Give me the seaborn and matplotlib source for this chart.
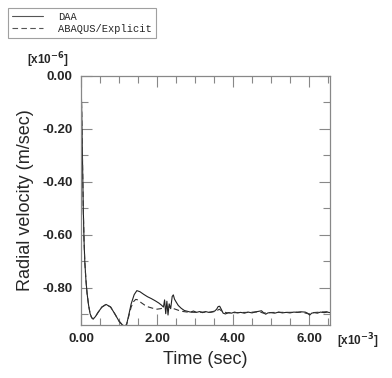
import numpy as np
import pandas as pd
import seaborn as sns
import matplotlib.pyplot as plt
from matplotlib.ticker import MultipleLocator, FixedLocator, FixedFormatter

# time in 1e-3 s, radial velocity in 1e-6 m/s
t_daa = [0.0, 0.02, 0.04, 0.06, 0.08, 0.10, 0.13, 0.16, 0.20, 0.24, 0.28, 0.32,
         0.38, 0.45, 0.55, 0.66, 0.78, 0.90, 1.00, 1.08, 1.15, 1.20, 1.26, 1.32,
         1.40, 1.47, 1.55, 1.65, 1.75, 1.85, 1.95, 2.05, 2.12, 2.17, 2.20, 2.23,
         2.26, 2.29, 2.32, 2.36, 2.40, 2.43, 2.46, 2.50, 2.56, 2.64, 2.72, 2.80,
         2.88, 2.96, 3.04, 3.12, 3.20, 3.28, 3.36, 3.44, 3.52, 3.57, 3.61, 3.65,
         3.69, 3.74, 3.80, 3.88, 3.96, 4.04, 4.12, 4.20, 4.30, 4.40, 4.50, 4.60,
         4.68, 4.75, 4.80, 4.86, 4.92, 5.00, 5.10, 5.20, 5.30, 5.40, 5.50, 5.60,
         5.70, 5.80, 5.90, 5.96, 6.02, 6.07, 6.14, 6.22, 6.30, 6.40, 6.48, 6.55]
v_daa = [0.0, -0.14, -0.32, -0.50, -0.62, -0.70, -0.77, -0.82, -0.865, -0.897, -0.912, -0.917,
         -0.908, -0.892, -0.872, -0.862, -0.872, -0.900, -0.925, -0.938, -0.945, -0.938, -0.900, -0.860,
         -0.825, -0.810, -0.814, -0.824, -0.833, -0.840, -0.848, -0.857, -0.865, -0.872, -0.845, -0.897,
         -0.850, -0.902, -0.860, -0.878, -0.832, -0.826, -0.842, -0.852, -0.866, -0.877, -0.885, -0.888,
         -0.891, -0.887, -0.892, -0.889, -0.893, -0.889, -0.892, -0.890, -0.887, -0.880, -0.870, -0.869,
         -0.880, -0.895, -0.898, -0.893, -0.895, -0.891, -0.894, -0.892, -0.895, -0.891, -0.894, -0.890,
         -0.888, -0.886, -0.893, -0.899, -0.894, -0.893, -0.895, -0.891, -0.894, -0.892, -0.894, -0.891,
         -0.892, -0.890, -0.891, -0.895, -0.902, -0.895, -0.893, -0.895, -0.891, -0.893, -0.891, -0.893]

t_aba = [0.0, 0.02, 0.04, 0.06, 0.08, 0.10, 0.13, 0.16, 0.20, 0.24, 0.28, 0.32,
         0.38, 0.45, 0.55, 0.66, 0.78, 0.90, 1.00, 1.08, 1.15, 1.20, 1.26, 1.32,
         1.38, 1.44, 1.50, 1.58, 1.68, 1.78, 1.90, 2.00, 2.10, 2.20, 2.30, 2.40,
         2.50, 2.60, 2.70, 2.80, 3.00, 3.20, 3.40, 3.55, 3.64, 3.72, 3.85, 4.10,
         4.40, 4.70, 4.80, 4.90, 5.20, 5.50, 5.80, 6.00, 6.10, 6.30, 6.55]
v_aba = [0.0, -0.14, -0.32, -0.50, -0.62, -0.70, -0.77, -0.82, -0.865, -0.897, -0.912, -0.917,
         -0.908, -0.892, -0.872, -0.862, -0.872, -0.900, -0.925, -0.938, -0.945, -0.938, -0.905, -0.872,
         -0.852, -0.843, -0.845, -0.855, -0.865, -0.872, -0.877, -0.880, -0.878, -0.874, -0.872, -0.876,
         -0.881, -0.886, -0.889, -0.891, -0.892, -0.891, -0.892, -0.888, -0.880, -0.889, -0.894, -0.893,
         -0.892, -0.890, -0.895, -0.893, -0.892, -0.892, -0.891, -0.898, -0.893, -0.891, -0.889]

df = pd.concat([
    pd.DataFrame({"t": t_daa, "v": v_daa, "series": "DAA"}),
    pd.DataFrame({"t": t_aba, "v": v_aba, "series": "ABAQUS/Explicit"}),
])

sns.set_style("ticks")
plt.rcParams["font.family"] = ["Liberation Sans", "DejaVu Sans"]

fig = plt.figure(figsize=(3.92, 3.78), dpi=100)
ax = fig.add_axes([0.2066, 0.140, 0.635, 0.659])

sns.lineplot(data=df, x="t", y="v", hue="series", style="series",
             palette={"DAA": "#222222", "ABAQUS/Explicit": "#333333"},
             dashes={"DAA": "", "ABAQUS/Explicit": (5, 3)},
             sort=False, estimator=None, linewidth=0.8, ax=ax, legend=False)

ax.set_xlim(0, 6.55)
ax.set_ylim(-0.94, 0)
ax.xaxis.set_major_locator(FixedLocator([0, 2, 4, 6]))
ax.xaxis.set_major_formatter(FixedFormatter(["0.00", "2.00", "4.00", "6.00"]))
ax.xaxis.set_minor_locator(MultipleLocator(0.5))
ax.yaxis.set_major_locator(FixedLocator([0, -0.2, -0.4, -0.6, -0.8]))
ax.yaxis.set_major_formatter(FixedFormatter(["0.00", "-0.20", "-0.40", "-0.60", "-0.80"]))
ax.yaxis.set_minor_locator(MultipleLocator(0.1))

ax.tick_params(which="both", direction="in", top=True, right=True, color="#888888", width=0.8)
ax.tick_params(which="major", length=8, labelsize=9.5, pad=6)
ax.tick_params(which="minor", length=5)
for lab in ax.get_xticklabels() + ax.get_yticklabels():
    lab.set_fontweight("bold")
for sp in ax.spines.values():
    sp.set_color("#888888")
    sp.set_linewidth(0.9)

ax.set_xlabel("Time (sec)", fontsize=13, labelpad=4)
ax.set_ylabel("Radial velocity (m/sec)", fontsize=13, labelpad=6)

fig.text(0.122, 0.842, r"[x10$^{\mathbf{-6}}$]", fontsize=8.5, fontweight="bold", ha="center", va="center")
fig.text(0.913, 0.098, r"[x10$^{\mathbf{-3}}$]", fontsize=8.5, fontweight="bold", ha="center", va="center")

handles = [plt.Line2D([], [], color="#555555", lw=0.8, ls="-"),
           plt.Line2D([], [], color="#555555", lw=0.8, ls=(0, (5, 3)))]
leg = fig.legend(handles, ["DAA", "ABAQUS/Explicit"], loc="upper left",
                 bbox_to_anchor=(0.02, 0.98), frameon=True, fancybox=False,
                 prop={"family": "Liberation Mono", "size": 7.5},
                 handlelength=3.0, handletextpad=1.4, borderpad=0.4,
                 labelspacing=0.2, borderaxespad=0)
leg.get_frame().set_edgecolor("#888888")
leg.get_frame().set_linewidth(0.8)

fig.savefig("out.png", dpi=100)
